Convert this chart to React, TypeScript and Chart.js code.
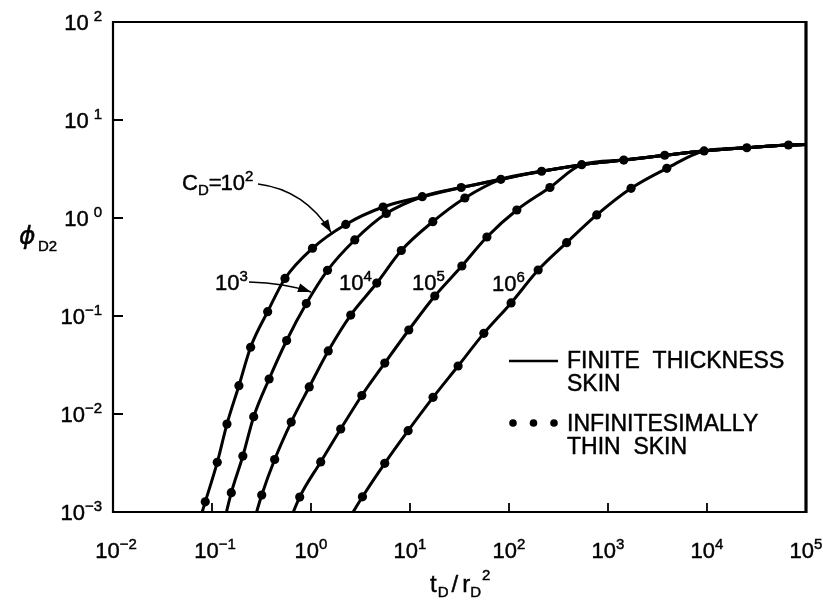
import { useEffect, useRef } from "react";
import { Chart, registerables } from "chart.js";

Chart.register(...registerables);

const FONT = '"Liberation Sans", Arial, Helvetica, sans-serif';

// Upper envelope: C_D = 10^2 (every other curve joins it at late time)
const tEnvelope = [0.0855, 0.113, 0.1416, 0.187, 0.2455, 0.365, 0.546, 1.035, 2.244, 5.35, 13.3, 32.9, 82.8, 213.6, 542, 1442, 3741, 9350, 25240, 66500];
const phiEnvelope = [0.00127, 0.00321, 0.0079, 0.01945, 0.048, 0.1107, 0.2415, 0.491, 0.859, 1.294, 1.649, 2.048, 2.483, 2.998, 3.5, 3.9, 4.37, 4.83, 5.21, 5.56];

// C_D = 10^3
const tC3 = [0.1567, 0.205, 0.2637, 0.3776, 0.5675, 0.897, 1.468, 2.767, 5.76];
const phiC3 = [0.001574, 0.003724, 0.00938, 0.02275, 0.0562, 0.134, 0.2925, 0.597, 1.111];

// C_D = 10^4
const tC4 = [0.318, 0.4295, 0.631, 0.96, 1.493, 2.52, 4.62, 8.17, 17.0, 35.8];
const phiC4 = [0.00149, 0.003435, 0.00828, 0.01888, 0.044, 0.1023, 0.217, 0.466, 0.917, 1.6];

// C_D = 10^5
const tC5 = [0.769, 1.253, 1.995, 3.26, 5.56, 9.72, 17.8, 33.4, 59.8, 120, 259];
const phiC5 = [0.00142, 0.00324, 0.00703, 0.01545, 0.0331, 0.072, 0.16, 0.3236, 0.64, 1.207, 2.048];

// C_D = 10^6
const tC6 = [3.31, 5.56, 9.57, 17.1, 30.6, 55.7, 105, 197, 382, 769, 1710, 3926];
const phiC6 = [0.00143, 0.00314, 0.00676, 0.01479, 0.0309, 0.0665, 0.136, 0.2946, 0.56, 1.074, 2.01, 3.21];

const curveNames = ["C_D = 10^2", "C_D = 10^3", "C_D = 10^4", "C_D = 10^5", "C_D = 10^6"];
const curveT = [tEnvelope, tC3, tC4, tC5, tC6];
const curvePhi = [phiEnvelope, phiC3, phiC4, phiC5, phiC6];
// index into the envelope where each curve merges with it (-1: is the envelope)
const joinIndex = [-1, 10, 12, 14, 17];
// where each line enters from below the lower axis
const startT = [0.0645, 0.119, 0.232, 0.507, 1.77];
const startPhi = [5e-4, 5e-4, 5e-4, 5e-4, 5e-4];
// line ends at the right-hand frame
const endT = 1e5;
const endPhi = 5.62;

const xTickExp = [-2, -1, 0, 1, 2, 3, 4, 5];
const yTickExp = [-3, -2, -1, 0, 1, 2];

// filled text with a hairline outline for a slightly heavier face
function txt(ctx: CanvasRenderingContext2D, s: string, x: number, y: number) {
  ctx.fillText(s, x, y);
  ctx.lineWidth = 0.45;
  ctx.strokeText(s, x, y);
}

function drawPow(
  ctx: CanvasRenderingContext2D,
  x: number,
  baseline: number,
  exp: number,
  align: "left" | "center" | "right",
  gap: number,
  baseSize: number,
  supSize: number
) {
  ctx.font = `${baseSize}px ${FONT}`;
  const wBase = ctx.measureText("10").width;
  const expText = exp < 0 ? "\u2212" + Math.abs(exp) : String(exp);
  ctx.font = `${supSize}px ${FONT}`;
  const wExp = ctx.measureText(expText).width;
  const total = wBase + gap + wExp;
  const left = align === "center" ? x - total / 2 : align === "right" ? x - total : x;
  ctx.textAlign = "left";
  ctx.textBaseline = "alphabetic";
  ctx.font = `${baseSize}px ${FONT}`;
  txt(ctx, "10", left, baseline);
  ctx.font = `${supSize}px ${FONT}`;
  txt(ctx, expText, left + wBase + gap, baseline - baseSize * 0.42);
}

function arrow(
  ctx: CanvasRenderingContext2D,
  x0: number, y0: number, cx: number, cy: number, x1: number, y1: number
) {
  ctx.beginPath();
  ctx.moveTo(x0, y0);
  ctx.quadraticCurveTo(cx, cy, x1, y1);
  ctx.lineWidth = 1.5;
  ctx.stroke();
  const ang = Math.atan2(y1 - cy, x1 - cx);
  const len = 13;
  const hw = 4.5;
  const bx = x1 - len * Math.cos(ang);
  const by = y1 - len * Math.sin(ang);
  ctx.beginPath();
  ctx.moveTo(x1, y1);
  ctx.lineTo(bx + hw * Math.sin(ang), by - hw * Math.cos(ang));
  ctx.lineTo(bx - hw * Math.sin(ang), by + hw * Math.cos(ang));
  ctx.closePath();
  ctx.fill();
}

const framePlugin = {
  id: "frameAndText",
  afterDraw(chart: any) {
    const ctx: CanvasRenderingContext2D = chart.ctx;
    const { left, right, top, bottom } = chart.chartArea;
    const xs = chart.scales.x;
    const ys = chart.scales.y;
    ctx.save();
    ctx.strokeStyle = "#000";
    ctx.fillStyle = "#000";

    // frame
    ctx.lineWidth = 2.2;
    ctx.beginPath();
    ctx.moveTo(right, top);
    ctx.lineTo(left, top);
    ctx.lineTo(left, bottom);
    ctx.lineTo(right, bottom);
    ctx.stroke();
    ctx.lineWidth = 3.2;
    ctx.beginPath();
    ctx.moveTo(right, top - 1);
    ctx.lineTo(right, bottom + 1);
    ctx.stroke();

    // inward ticks
    ctx.lineWidth = 1.8;
    ctx.beginPath();
    yTickExp.forEach((e) => {
      const y = ys.getPixelForValue(Math.pow(10, e));
      if (e > -3 && e < 2) {
        ctx.moveTo(left, y);
        ctx.lineTo(left + 10, y);
      }
    });
    xTickExp.forEach((e) => {
      const x = xs.getPixelForValue(Math.pow(10, e));
      if (e > -2 && e < 5) {
        ctx.moveTo(x, bottom);
        ctx.lineTo(x, bottom - 9);
      }
    });
    ctx.stroke();

    // tick labels
    yTickExp.forEach((e) => {
      const y = ys.getPixelForValue(Math.pow(10, e));
      drawPow(ctx, 102, y + 8, e, "right", e >= 0 ? 5 : 0, 22, 15);
    });
    xTickExp.forEach((e) => {
      const x = xs.getPixelForValue(Math.pow(10, e));
      drawPow(ctx, x + (e < 0 ? 3 : 0), 558, e, "center", 0, 22, 15);
    });

    // axis titles
    ctx.textAlign = "left";
    ctx.textBaseline = "alphabetic";
    ctx.font = `italic 25px "DejaVu Sans", ${FONT}`;
    txt(ctx, "\u03D5", 19, 244);
    ctx.font = `15px ${FONT}`;
    txt(ctx, "D2", 38, 251);

    let tx = 430;
    const tb = 592;
    ctx.font = `24px ${FONT}`;
    txt(ctx, "t", tx, tb);
    tx += ctx.measureText("t").width + 1;
    ctx.font = `15px ${FONT}`;
    txt(ctx, "D", tx, tb + 5);
    tx += ctx.measureText("D").width + 3;
    ctx.font = `24px ${FONT}`;
    txt(ctx, "/", tx, tb);
    tx += ctx.measureText("/").width + 4;
    txt(ctx, "r", tx, tb);
    tx += ctx.measureText("r").width;
    ctx.font = `15px ${FONT}`;
    txt(ctx, "D", tx, tb + 5);
    tx += ctx.measureText("D").width + 1;
    txt(ctx, "2", tx, tb - 12);

    // curve annotations
    ctx.font = `22px ${FONT}`;
    let ax = 182;
    const ab = 190;
    txt(ctx, "C", ax, ab);
    ax += ctx.measureText("C").width;
    ctx.font = `15px ${FONT}`;
    txt(ctx, "D", ax, ab + 5);
    ax += ctx.measureText("D").width;
    ctx.font = `22px ${FONT}`;
    txt(ctx, "=", ax, ab);
    ax += ctx.measureText("=").width - 1;
    drawPow(ctx, ax, ab, 2, "left", 0, 22, 15);

    drawPow(ctx, 215, 290, 3, "left", 0, 22, 15);
    drawPow(ctx, 339, 290, 4, "left", 0, 22, 15);
    drawPow(ctx, 412, 290, 5, "left", 0, 22, 15);
    drawPow(ctx, 492, 291, 6, "left", 0, 22, 15);

    const tip2x = xs.getPixelForValue(1.6);
    const tip2y = ys.getPixelForValue(0.71);
    arrow(ctx, 258, 184, 305, 190, tip2x, tip2y);
    const tip3x = xs.getPixelForValue(1.0);
    const tip3y = ys.getPixelForValue(0.176);
    arrow(ctx, 249, 282, 285, 283, tip3x, tip3y);

    // key
    ctx.lineWidth = 2.4;
    ctx.beginPath();
    ctx.moveTo(509, 361);
    ctx.lineTo(558, 361);
    ctx.stroke();
    [513, 533.5, 554].forEach((dx) => {
      ctx.beginPath();
      ctx.arc(dx, 423, 3.8, 0, Math.PI * 2);
      ctx.fill();
    });
    ctx.font = `23px ${FONT}`;
    txt(ctx, "FINITE  THICKNESS", 567, 368);
    txt(ctx, "SKIN", 567, 391);
    txt(ctx, "INFINITESIMALLY", 567, 431);
    txt(ctx, "THIN  SKIN", 567, 454);

    ctx.restore();
  },
};

export default function App() {
  const ref = useRef<HTMLCanvasElement | null>(null);

  useEffect(() => {
    if (!ref.current) return;
    const datasets: any[] = [];
    curveT.forEach((ts, i) => {
      const own = ts.map((t, k) => ({ x: t, y: curvePhi[i][k] }));
      const tail =
        joinIndex[i] >= 0
          ? tEnvelope.slice(joinIndex[i]).map((t, k) => ({ x: t, y: phiEnvelope[joinIndex[i] + k] }))
          : [];
      datasets.push({
        label: curveNames[i],
        data: [{ x: startT[i], y: startPhi[i] }, ...own, ...tail, { x: endT, y: endPhi }],
        borderColor: "#000",
        borderWidth: 3,
        pointRadius: 0,
        fill: false,
        cubicInterpolationMode: "monotone",
      });
      datasets.push({
        label: curveNames[i] + " (thin skin)",
        data: own,
        showLine: false,
        pointRadius: 4.6,
        pointBackgroundColor: "#000",
        pointBorderWidth: 0,
        borderColor: "#000",
      });
    });

    const chart = new Chart(ref.current, {
      type: "line",
      data: { datasets },
      options: {
        animation: false,
        responsive: false,
        maintainAspectRatio: false,
        layout: { padding: { left: 113, right: 17, top: 22, bottom: 95 } },
        scales: {
          x: { type: "logarithmic", min: 0.01, max: 1e5, display: false },
          y: { type: "logarithmic", min: 1e-3, max: 100, display: false },
        },
        plugins: { legend: { display: false }, tooltip: { enabled: false } },
      },
      plugins: [framePlugin],
    } as any);
    return () => chart.destroy();
  }, []);

  return (
    <div style={{ position: "absolute", left: 0, top: 0, width: 823, height: 607, background: "#fff" }}>
      <canvas ref={ref} width={823} height={607} style={{ display: "block" }} />
    </div>
  );
}
